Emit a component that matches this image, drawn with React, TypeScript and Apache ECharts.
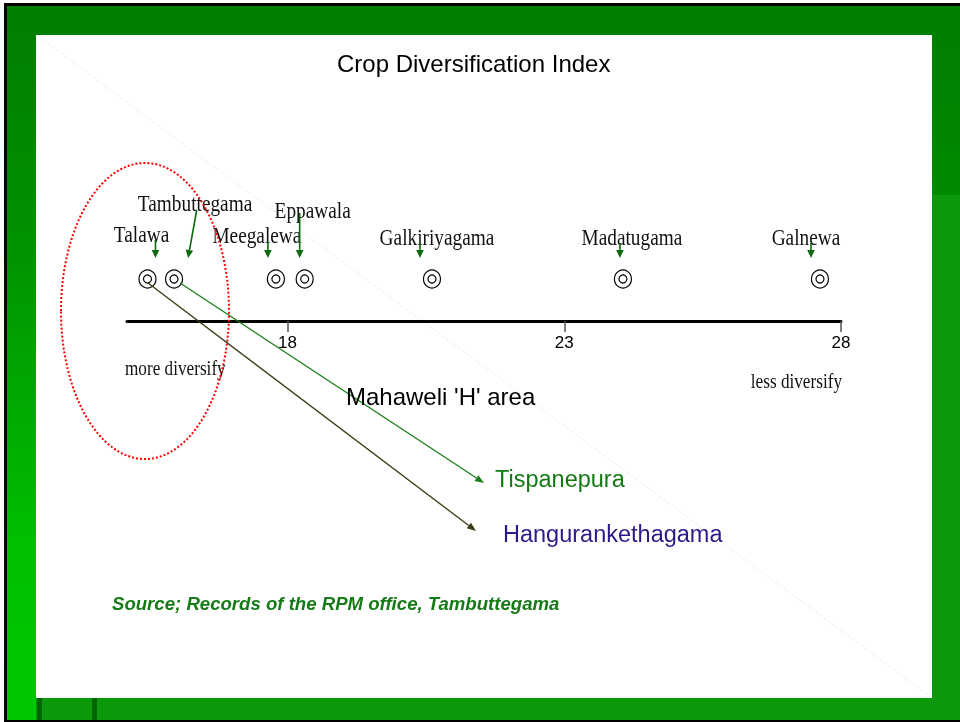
import React, { useEffect, useRef } from "react";
import * as echarts from "echarts";

// ---- data ----
const villages = ["Talawa", "Tambuttegama", "Meegalewa", "Eppawala", "Galkiriyagama", "Madatugama", "Galnewa"];
const indexValues = [15.47, 15.95, 17.79, 18.31, 20.61, 24.06, 27.62];
const tickValues = [18, 23, 28];
const axisMin = 15.1;
const axisMax = 28;
const rowLevel = 1;

const titleText = "Crop Diversification Index";
const axisName = "Mahaweli 'H' area";
const leftNote = "more diversify";
const rightNote = "less diversify";
const highlightA = "Tispanepura";
const highlightB = "Hangurankethagama";
const sourceText = "Source; Records of the RPM office, Tambuttegama";

// ---- layout (pixel offsets relative to each point) ----
const labelDx = [-6, 21, -19, 8, 5, 9, -14];
const labelBaseDy = [-37, -68, -36, -61, -34, -34, -34];
const arrowTopDx = [8, 22.7, -8, -5, -12, -3, -9];
const arrowTopDy = [-39, -69, -37, -66, -36, -36, -36];
const arrowTipDx = [8, 14, -8, -5, -12, -3, -9];
const arrowTipDy = -21;

function arrow(x1: number, y1: number, x2: number, y2: number, color: string, width: number, headLen: number, headHalf: number, z: number) {
  const dx = x2 - x1;
  const dy = y2 - y1;
  const L = Math.sqrt(dx * dx + dy * dy);
  const ux = dx / L;
  const uy = dy / L;
  const bx = x2 - ux * headLen;
  const by = y2 - uy * headLen;
  const px = -uy;
  const py = ux;
  return [
    { type: "line", z, shape: { x1, y1, x2: bx, y2: by }, style: { stroke: color, lineWidth: width } },
    {
      type: "polygon",
      z,
      shape: { points: [[x2, y2], [bx + px * headHalf, by + py * headHalf], [bx - px * headHalf, by - py * headHalf]] },
      style: { fill: color },
    },
  ];
}

export default function App() {
  const ref = useRef<HTMLDivElement>(null);
  useEffect(() => {
    const chart = echarts.init(ref.current!, null, { renderer: "svg" });
    chart.setOption({
      animation: false,
      title: {
        text: titleText,
        left: 337,
        top: 51,
        padding: 0,
        textStyle: { fontFamily: "Liberation Sans", fontSize: 24, fontWeight: "normal", color: "#000" },
      },
      grid: { left: 127, right: 119, top: 279, bottom: 401 },
      xAxis: {
        type: "value",
        min: axisMin,
        max: axisMax,
        axisLine: { show: true, onZero: false, lineStyle: { color: "#000", width: 3 } },
        axisTick: { show: true, customValues: tickValues, length: 11, lineStyle: { color: "#555", width: 1.5 } },
        axisLabel: { show: true, customValues: tickValues, margin: 13, fontSize: 17, fontFamily: "Liberation Sans", color: "#000" },
        splitLine: { show: false },
      },
      yAxis: { type: "value", min: 0, max: 1, show: false },
      series: [
        {
          type: "scatter",
          clip: false,
          symbol: "circle",
          symbolSize: [17, 18],
          itemStyle: { color: "#fff", borderColor: "#000", borderWidth: 1.2, opacity: 1 },
          data: indexValues.map((v) => [v, rowLevel]),
          z: 3,
        },
        {
          type: "scatter",
          clip: false,
          symbol: "circle",
          symbolSize: 8,
          itemStyle: { color: "#fff", borderColor: "#000", borderWidth: 1.2, opacity: 1 },
          data: indexValues.map((v) => [v, rowLevel]),
          z: 4,
        },
      ],
    });

    const pts = indexValues.map((v) => chart.convertToPixel({ xAxisIndex: 0, yAxisIndex: 0 }, [v, rowLevel]) as number[]);

    const bgZ = -50;
    const texture = "#0b980b";
    const elements: any[] = [
      { type: "rect", z: bgZ, shape: { x: 4, y: 3, width: 956, height: 719 }, style: { fill: "#000" } },
      { type: "rect", z: bgZ, shape: { x: 7, y: 6, width: 953, height: 714 }, style: { fill: "#007f00" } },
      {
        type: "rect",
        z: bgZ,
        shape: { x: 7, y: 35, width: 29, height: 685 },
        style: {
          fill: new echarts.graphic.LinearGradient(0, 0, 0, 1, [
            { offset: 0, color: "#008000" },
            { offset: 0.31, color: "#009200" },
            { offset: 0.75, color: "#00bf00" },
            { offset: 1, color: "#00c800" },
          ]),
        },
      },
      {
        type: "rect",
        z: bgZ,
        shape: { x: 932, y: 35, width: 28, height: 160 },
        style: {
          fill: new echarts.graphic.LinearGradient(0, 0, 0, 1, [
            { offset: 0, color: "#007f00" },
            { offset: 1, color: "#008a00" },
          ]),
        },
      },
      { type: "rect", z: bgZ, shape: { x: 932, y: 195, width: 28, height: 525 }, style: { fill: texture } },
      { type: "rect", z: bgZ, shape: { x: 36, y: 698, width: 896, height: 22 }, style: { fill: texture } },
      { type: "rect", z: bgZ, shape: { x: 37, y: 698, width: 5, height: 22 }, style: { fill: "#006400" } },
      { type: "rect", z: bgZ, shape: { x: 92, y: 698, width: 5, height: 22 }, style: { fill: "#006400" } },
      { type: "rect", z: bgZ, shape: { x: 36, y: 35, width: 896, height: 663 }, style: { fill: "#fff" } },
      {
        type: "line",
        z: bgZ,
        shape: { x1: 36, y1: 35, x2: 932, y2: 698 },
        style: { stroke: "#ececec", lineWidth: 1, lineDash: [3, 2] },
      },
    ];

    // village labels and arrows
    villages.forEach((name, i) => {
      const [px, py] = pts[i];
      elements.push({
        type: "text",
        z: 5,
        x: px + labelDx[i],
        y: py + labelBaseDy[i] - 7.8,
        scaleX: 0.84,
        style: {
          text: name,
          fill: "#111",
          fontSize: 23,
          fontFamily: "Liberation Serif",
          textAlign: "center",
          textVerticalAlign: "middle",
        },
      });
      elements.push(
        ...arrow(px + arrowTopDx[i], py + arrowTopDy[i], px + arrowTipDx[i], py + arrowTipDy, "#0a6a0a", 1.6, 8, 3.8, 5)
      );
    });

    // leader arrows to highlighted villages
    elements.push(...arrow(pts[1][0] + 6, pts[1][1] + 4, 484, 483, "#1a7f1a", 1.3, 9, 3.5, 5));
    elements.push(...arrow(pts[0][0] + 0.5, pts[0][1] + 4, 476, 531, "#3a3a14", 1.3, 9, 3.5, 5));

    // red dotted ellipse
    elements.push({
      type: "ellipse",
      z: 6,
      shape: { cx: 145, cy: 311, rx: 84, ry: 148 },
      style: { fill: "none", stroke: "#ff0000", lineWidth: 2, lineDash: [2, 2] },
    });

    // texts
    elements.push(
      {
        type: "text",
        z: 5,
        x: 346,
        y: 396,
        style: { text: axisName, fill: "#000", fontSize: 24, fontFamily: "Liberation Sans", textAlign: "left", textVerticalAlign: "middle" },
      },
      {
        type: "text",
        z: 5,
        x: 125,
        y: 368,
        scaleX: 0.86,
        style: { text: leftNote, fill: "#111", fontSize: 20, fontFamily: "Liberation Serif", textAlign: "left", textVerticalAlign: "middle" },
      },
      {
        type: "text",
        z: 5,
        x: 842,
        y: 381,
        scaleX: 0.86,
        style: { text: rightNote, fill: "#111", fontSize: 20, fontFamily: "Liberation Serif", textAlign: "right", textVerticalAlign: "middle" },
      },
      {
        type: "text",
        z: 5,
        x: 495,
        y: 479,
        style: { text: highlightA, fill: "#137a13", fontSize: 23.5, fontFamily: "Liberation Sans", textAlign: "left", textVerticalAlign: "middle" },
      },
      {
        type: "text",
        z: 5,
        x: 503,
        y: 534,
        style: { text: highlightB, fill: "#2a1b8a", fontSize: 23.5, fontFamily: "Liberation Sans", textAlign: "left", textVerticalAlign: "middle" },
      },
      {
        type: "text",
        z: 5,
        x: 112,
        y: 603,
        style: {
          text: sourceText,
          fill: "#167a16",
          fontSize: 18.6,
          fontWeight: "bold",
          fontStyle: "italic",
          fontFamily: "Liberation Sans",
          textAlign: "left",
          textVerticalAlign: "middle",
        },
      }
    );

    chart.setOption({ graphic: { elements } });
    return () => chart.dispose();
  }, []);
  return <div ref={ref} style={{ position: "fixed", left: 0, top: 0, width: 960, height: 722 }} />;
}
